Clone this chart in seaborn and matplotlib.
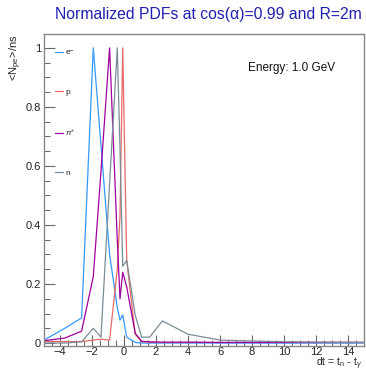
import numpy as np
import pandas as pd
import matplotlib
matplotlib.use("Agg")
import matplotlib.pyplot as plt
from matplotlib.ticker import MultipleLocator, FuncFormatter
from matplotlib.lines import Line2D
import seaborn as sns

# ---- data ----
dt = [-5, -3.7, -2.65, -1.92, -1.44, -0.9, -0.42, -0.25, -0.08, 0.17,
      0.7, 1.1, 1.6, 2.4, 4.0, 6.0, 9.3, 12, 15]
electron = [0.01, 0.05, 0.085, 1.0, 0.67, 0.30, 0.12, 0.078, 0.095, 0.02,
            0.002, 0, 0, 0, 0, 0, 0, 0, 0]
proton = [0.005, 0.005, 0.005, 0.01, 0.013, 0.01, 0.25, 0.43, 1.0, 0.28,
          0.03, 0.005, 0.003, 0.002, 0.002, 0.002, 0.002, 0.002, 0.002]
pion = [0.008, 0.017, 0.04, 0.225, 0.58, 1.0, 0.35, 0.15, 0.24, 0.19,
        0.033, 0.006, 0.004, 0.003, 0.003, 0.002, 0.002, 0.002, 0.002]
neutron = [0, 0, 0.004, 0.05, 0.02, 0.54, 1.0, 0.66, 0.26, 0.28,
           0.095, 0.02, 0.02, 0.075, 0.03, 0.01, 0.005, 0.003, 0.002]
species = ["e-", "p", "pi+", "n"]
labels = [r"e$^{-}$", "p", r"$\pi^{+}$", "n"]
colors = {"e-": "#3399ff", "p": "#e86868", "pi+": "#a000a0", "n": "#7a8c96"}
title = "Normalized PDFs at cos(\u03b1)=0.99 and R=2m"

series = {"e-": electron, "p": proton, "pi+": pion, "n": neutron}
df = pd.concat([pd.DataFrame({"dt": dt, "val": v, "species": k})
                for k, v in series.items()], ignore_index=True)

sns.set_theme(style="white")
plt.rcParams["font.family"] = ["Liberation Sans", "DejaVu Sans"]
plt.rcParams["mathtext.fontset"] = "custom"
plt.rcParams["mathtext.rm"] = "Liberation Sans"
plt.rcParams["mathtext.it"] = "Liberation Sans:italic"

fig = plt.figure(figsize=(3.66, 3.72), dpi=100)
ax = fig.add_axes([44/366, 26/372, 320/366, 312/372])

sns.lineplot(data=df, x="dt", y="val", hue="species", hue_order=species,
             palette=colors, sort=False, estimator=None, linewidth=0.9,
             legend=False, ax=ax)

ax.set_xlim(-5, 15)
ax.set_ylim(-0.01, 1.047)

for s in ax.spines.values():
    s.set_color("#888888")
    s.set_linewidth(1.0)

ax.xaxis.set_major_locator(MultipleLocator(2))
ax.xaxis.set_minor_locator(MultipleLocator(0.5))
ax.yaxis.set_major_locator(MultipleLocator(0.2))
ax.yaxis.set_minor_locator(MultipleLocator(0.05))
ax.yaxis.set_major_formatter(FuncFormatter(lambda v, p: f"{v:g}" if abs(v) > 1e-9 else "0"))
ax.tick_params(which="both", direction="in", color="#666666", top=False, right=False,
               bottom=True, left=True, labelsize=8, labelcolor="#222222")
ax.tick_params(which="major", length=8, width=0.8, pad=2)
ax.tick_params(axis="x", which="major", pad=0.4)
ax.tick_params(which="minor", length=4, width=0.7)

ax.set_ylabel(r"<N$_{\rm pe}$>/ns", fontsize=8, rotation=90)
ax.yaxis.set_label_coords(-0.0875, 1.0)
ax.yaxis.label.set_ha("right")
ax.yaxis.label.set_va("center")
ax.set_xlabel(r"dt = t$_{\rm n}$ - t$_{\gamma}$", fontsize=7.5)
ax.xaxis.set_label_coords(0.994, -0.0835)
ax.xaxis.label.set_ha("right")
ax.xaxis.label.set_va("bottom")

handles = [Line2D([], [], color=colors[k], lw=0.9) for k in species]
ax.legend(handles, labels, loc="upper left", bbox_to_anchor=(0.035, 0.955),
          frameon=False, fontsize=6, handlelength=0.9, handletextpad=0.3,
          labelspacing=3.75, borderpad=0, borderaxespad=0)

ax.text(0.775, 0.89, "Energy: 1.0 GeV", transform=ax.transAxes, fontsize=8.5,
        ha="center", va="center", color="#111111")

fig.text(0.568, 0.962, title, ha="center", va="center", fontsize=11.3, color="#2020b0")

fig.savefig("out.png", dpi=100)
